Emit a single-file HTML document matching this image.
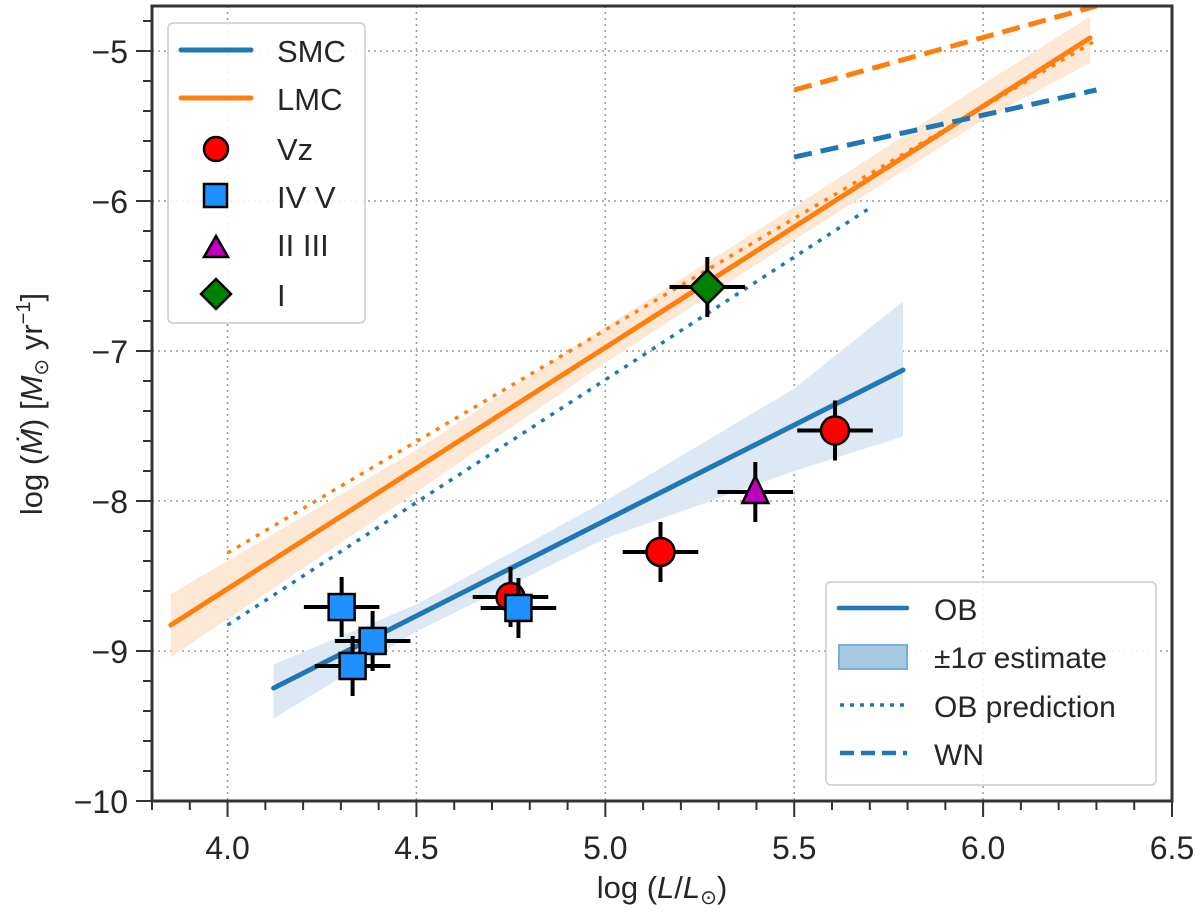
<!DOCTYPE html>
<html><head><meta charset="utf-8"><style>
body{margin:0;background:#fff;}
svg text{font-family:"Liberation Sans",sans-serif;fill:#262626;}
</style></head><body>
<svg id="chart" width="1200" height="916" xmlns="http://www.w3.org/2000/svg"></svg>
<script>
const xTicks=[4.0,4.5,5.0,5.5,6.0,6.5];
const yTicks=[-5,-6,-7,-8,-9,-10];
const xTickLabels=["4.0","4.5","5.0","5.5","6.0","6.5"];
const yTickLabels=["−5","−6","−7","−8","−9","−10"];
const smcLineX=[4.122,5.788];
const smcLineY=[-9.247,-7.127];
const smcBandX=[4.122,4.5,5.0,5.5,5.788];
const smcBandUpper=[-9.09,-8.69,-8.0,-7.25,-6.67];
const smcBandLower=[-9.45,-8.87,-8.25,-7.8,-7.57];
const lmcLineX=[3.85,6.283];
const lmcLineY=[-8.827,-4.913];
const lmcBandX=[3.85,4.5,5.0,5.5,6.0,6.283];
const lmcBandUpper=[-8.62,-7.66,-6.84,-6.04,-5.22,-4.77];
const lmcBandLower=[-9.04,-7.94,-7.08,-6.26,-5.46,-5.08];
const lmcPredX=[4.0,6.3];
const lmcPredY=[-8.347,-4.927];
const smcPredX=[4.0,5.7];
const smcPredY=[-8.827,-6.047];
const wnSmcX=[5.5,6.3];
const wnSmcY=[-5.707,-5.26];
const wnLmcX=[5.5,6.3];
const wnLmcY=[-5.26,-4.7];
const vzX=[4.749,5.146,5.608];
const vzY=[-8.64,-8.34,-7.53];
const ivX=[4.302,4.384,4.331,4.770];
const ivY=[-8.707,-8.933,-9.1,-8.713];
const iiX=[5.397];
const iiY=[-7.94];
const iX=[5.27];
const iY=[-6.573];
const errX=0.1, errY=0.2;

const L=152,R=1172,T=6,B=801,xmin=3.8,xmax=6.5,ymin=-10,ymax=-4.7;
const sx=v=>L+(v-xmin)/(xmax-xmin)*(R-L);
const sy=v=>B-(v-ymin)/(ymax-ymin)*(B-T);
const svg=document.getElementById('chart');
const NS="http://www.w3.org/2000/svg";
function mk(tag,attrs,parent){const e=document.createElementNS(NS,tag);for(const k in attrs)e.setAttribute(k,attrs[k]);(parent||svg).appendChild(e);return e;}

const defs=mk('defs',{});
const cp=mk('clipPath',{id:'clip'},defs);mk('rect',{x:L,y:T,width:R-L,height:B-T},cp);

xTicks.forEach(v=>{const g=mk('line',{x1:sx(v),x2:sx(v),y1:T,y2:B,stroke:'#999',"stroke-width":1.5,"stroke-dasharray":"2,4"});

});
yTicks.forEach(v=>{const g=mk('line',{x1:L,x2:R,y1:sy(v),y2:sy(v),stroke:'#999',"stroke-width":1.5,"stroke-dasharray":"2,4"});

});

const pl=mk('g',{"clip-path":"url(#clip)"});
function band(xs,up,lo,fill,name){let d='M'+xs.map((x,i)=>sx(x)+','+sy(up[i])).join('L');
for(let i=xs.length-1;i>=0;i--)d+='L'+sx(xs[i])+','+sy(lo[i]);
const p=mk('path',{d:d+'Z',fill:fill},pl);

}
function line(xs,ys,col,w,dash,name,cap){const p=mk('polyline',{points:xs.map((x,i)=>sx(x)+','+sy(ys[i])).join(' '),fill:'none',stroke:col,"stroke-width":w,"stroke-linecap":cap||'round'},pl);
if(dash)p.setAttribute('stroke-dasharray',dash);

}
band(lmcBandX,lmcBandUpper,lmcBandLower,'#fde8d6','lmc-sigma-band');
band(smcBandX,smcBandUpper,smcBandLower,'#dce8f3','smc-sigma-band');
line(lmcPredX,lmcPredY,'#ff7f0e',3.5,'4,7','lmc-ob-prediction','butt');
line(smcPredX,smcPredY,'#1f77b4',3.5,'4,7','smc-ob-prediction','butt');
line(lmcLineX,lmcLineY,'#ff7f0e',5,null,'lmc-ob-fit');
line(smcLineX,smcLineY,'#1f77b4',5,null,'smc-ob-fit');
line(wnLmcX,wnLmcY,'#ff7f0e',5,'18,9','lmc-wn-line','butt');
line(wnSmcX,wnSmcY,'#1f77b4',5,'18,9','smc-wn-line','butt');

function err(x,y){const g=mk('g',{stroke:'#000',"stroke-width":4},pl);
mk('line',{x1:sx(x-errX),x2:sx(x+errX),y1:sy(y),y2:sy(y)},g);
mk('line',{x1:sx(x),x2:sx(x),y1:sy(y-errY),y2:sy(y+errY)},g);

}
function marker(type,cx,cy,parent){let e;
if(type==='c')e=mk('circle',{cx:cx,cy:cy,r:14,fill:'#ff0000',stroke:'#000',"stroke-width":2.5},parent);
else if(type==='s')e=mk('rect',{x:cx-13,y:cy-13,width:26,height:26,fill:'#1e90ff',stroke:'#000',"stroke-width":2.5},parent);
else if(type==='t')e=mk('polygon',{points:`${cx},${cy-16} ${cx+13},${cy+11} ${cx-13},${cy+11}`,fill:'#bf00bf',stroke:'#000',"stroke-width":2.5},parent);
else e=mk('polygon',{points:`${cx},${cy-17} ${cx+17},${cy} ${cx},${cy+17} ${cx-17},${cy}`,fill:'#008000',stroke:'#000',"stroke-width":2.5},parent);
return e;}
function pts(xs,ys,type,name){xs.forEach((x,i)=>err(x,ys[i]));xs.forEach((x,i)=>{const m=marker(type,sx(x),sy(ys[i]),pl);

});}
pts(vzX,vzY,'c','vz-point');
pts(ivX,ivY,'s','iv-v-point');
pts(iiX,iiY,'t','ii-iii-point');
pts(iX,iY,'d','i-point');

mk('rect',{x:L,y:T,width:R-L,height:B-T,fill:'none',stroke:'#333',"stroke-width":3});
for(let v=3.8;v<=6.501;v+=0.1){const major=Math.abs(v*2-Math.round(v*2))<1e-6;
mk('line',{x1:sx(v),x2:sx(v),y1:B,y2:B+(major?16:9),stroke:'#333',"stroke-width":2});}
for(let v=-10;v<=-4.7;v+=0.2){const major=Math.abs(v-Math.round(v))<1e-6;
mk('line',{x1:L,x2:L-(major?16:9),y1:sy(v),y2:sy(v),stroke:'#333',"stroke-width":2});}
xTicks.forEach((v,i)=>{const t=mk('text',{x:sx(v),y:B+58,"font-size":32,"text-anchor":"middle"});t.textContent=xTickLabels[i];

});
yTicks.forEach((v,i)=>{const t=mk('text',{x:L-24,y:sy(v)+12,"font-size":32,"text-anchor":"end"});t.textContent=yTickLabels[i];

});
</script>
<svg style="position:absolute;left:0;top:0" width="1200" height="916" xmlns="http://www.w3.org/2000/svg">
<text x="662" y="898" font-size="31" text-anchor="middle">log (<tspan font-style="italic">L</tspan>/<tspan font-style="italic">L</tspan><tspan font-size="20" dy="6">⊙</tspan><tspan dy="-6">)</tspan></text>
<text transform="translate(42,404) rotate(-90)" font-size="31" text-anchor="middle">log (<tspan font-style="italic">Ṁ</tspan>) [<tspan font-style="italic">M</tspan><tspan font-size="20" dy="6">⊙</tspan><tspan dy="-6"> yr</tspan><tspan font-size="20" dy="-12">−1</tspan><tspan dy="12">]</tspan></text>
<g>
<rect x="168" y="23" width="197" height="300" rx="5" fill="#fff" fill-opacity="0.85" stroke="#ccc" stroke-width="1.5"/>
<line x1="181" y1="50" x2="251" y2="50" stroke="#1f77b4" stroke-width="5" stroke-linecap="round"/>
<text x="277" y="62" font-size="31">SMC</text>
<line x1="181" y1="98" x2="251" y2="98" stroke="#ff7f0e" stroke-width="5" stroke-linecap="round"/>
<text x="277" y="110" font-size="31">LMC</text>
<circle cx="216" cy="149" r="12" fill="#ff0000" stroke="#000" stroke-width="2.5"/>
<text x="277" y="160" font-size="31">Vz</text>
<rect x="204" y="184" width="23" height="23" fill="#1e90ff" stroke="#000" stroke-width="2.5"/>
<text x="277" y="208" font-size="31">IV V</text>
<polygon points="216,236 228,257 204,257" fill="#bf00bf" stroke="#000" stroke-width="2.5"/>
<text x="277" y="256" font-size="31">II III</text>
<polygon points="216,279 231,294 216,309 201,294" fill="#008000" stroke="#000" stroke-width="2.5"/>
<text x="277" y="306" font-size="31">I</text>
</g>
<g>
<rect x="826" y="582" width="330" height="203" rx="5" fill="#fff" fill-opacity="0.85" stroke="#ccc" stroke-width="1.5"/>
<line x1="839" y1="608" x2="907" y2="608" stroke="#1f77b4" stroke-width="4.5" stroke-linecap="round"/>
<text x="934" y="620" font-size="30">OB</text>
<rect x="839" y="645" width="68" height="24" fill="#a6c8e0" stroke="#7aaed3" stroke-width="2"/>
<text x="934" y="668" font-size="30">±1<tspan font-style="italic">σ</tspan> estimate</text>
<line x1="840" y1="705" x2="907" y2="705" stroke="#1f77b4" stroke-width="3.5" stroke-dasharray="4,6"/>
<text x="934" y="717" font-size="30">OB prediction</text>
<line x1="840" y1="753" x2="907" y2="753" stroke="#1f77b4" stroke-width="4.5" stroke-dasharray="14,7"/>
<text x="934" y="765" font-size="30">WN</text>
</g>
</svg>
</body></html>
